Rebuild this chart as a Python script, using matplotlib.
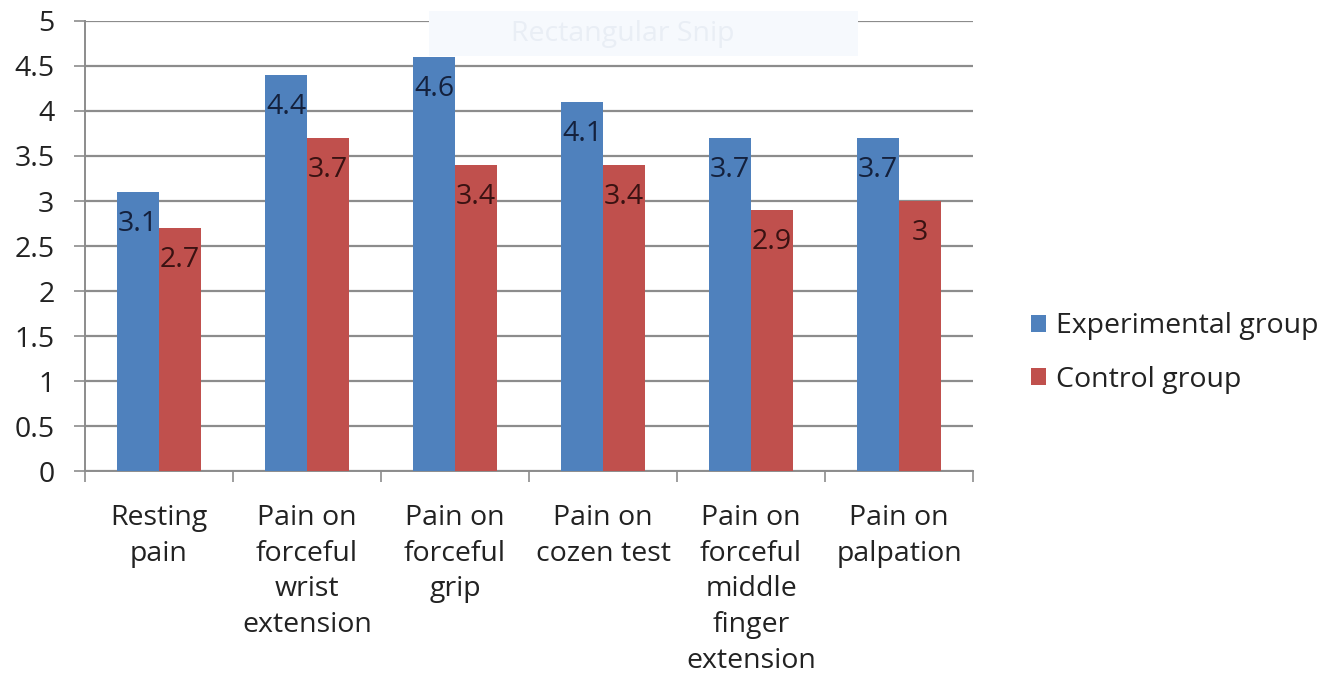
import matplotlib.pyplot as plt
import numpy as np
from matplotlib.patches import Rectangle

# data
categories = [
    "Resting\npain",
    "Pain on\nforceful\nwrist\nextension",
    "Pain on\nforceful\ngrip",
    "Pain on\ncozen test",
    "Pain on\nforceful\nmiddle\nfinger\nextension",
    "Pain on\npalpation",
]
experimental = [3.1, 4.4, 4.6, 4.1, 3.7, 3.7]
control = [2.7, 3.7, 3.4, 3.4, 2.9, 3.0]
exp_labels = ["3.1", "4.4", "4.6", "4.1", "3.7", "3.7"]
ctl_labels = ["2.7", "3.7", "3.4", "3.4", "2.9", "3"]
yticks = [0, 0.5, 1, 1.5, 2, 2.5, 3, 3.5, 4, 4.5, 5]

BLUE = "#4F81BD"
RED = "#C0504D"
GRID = "#8c8c8c"
TXT = "#222222"
FS = 20.5

plt.rcParams["font.family"] = ["Open Sans", "DejaVu Sans"]

fig = plt.figure(figsize=(13.28, 6.75), dpi=100)
ax = fig.add_axes([0.064, 0.3022, 0.6687, 0.6667])

x = np.arange(len(categories))
w = 0.284

ax.bar(x - w / 2, experimental, w, color=BLUE, zorder=3,
       label="Experimental group")
ax.bar(x + w / 2, control, w, color=RED, zorder=3,
       label="Control group")

for xi, v, s in zip(x, experimental, exp_labels):
    ax.text(xi - w / 2, v - 0.36, s, ha="center", va="center",
            fontsize=FS, color="#14213d", zorder=4)
for xi, v, s in zip(x, control, ctl_labels):
    ax.text(xi + w / 2, v - 0.36, s, ha="center", va="center",
            fontsize=FS, color="#3a1212", zorder=4)

ax.set_xlim(-0.5, len(categories) - 0.5)
ax.set_ylim(0, 5)
ax.set_yticks(yticks)
ax.set_yticklabels([f"{t:g}" for t in yticks], fontsize=FS, color=TXT)
ax.yaxis.grid(True, color=GRID, linewidth=1.6, zorder=0)

# category ticks between groups
ax.set_xticks(np.arange(len(categories) + 1) - 0.5)
ax.set_xticklabels([])
ax.set_xticks(x, minor=True)
ax.set_xticklabels(categories, minor=True, fontsize=FS, color=TXT,
                   linespacing=1.36, va="top")
ax.tick_params(axis="x", which="minor", length=0, pad=24)
ax.tick_params(axis="x", which="major", length=8, width=1.2,
               color=GRID)
ax.tick_params(axis="y", length=8, width=1.2, color=GRID, pad=14)

for side in ["top", "right"]:
    ax.spines[side].set_visible(False)
for side in ["left", "bottom"]:
    ax.spines[side].set_color(GRID)
    ax.spines[side].set_linewidth(1.4)

leg = ax.legend(loc="center left", bbox_to_anchor=(1.036, 0.262),
                frameon=False, fontsize=FS, handlelength=0.55,
                handleheight=0.55, handletextpad=0.35, labelspacing=0.9)
for t in leg.get_texts():
    t.set_color(TXT)

# faint snipping-tool overlay from the screenshot
fig.patches.append(Rectangle((0.323, 0.917), 0.323, 0.066,
                             transform=fig.transFigure,
                             facecolor="#f6f9fd", edgecolor="none",
                             zorder=5))
fig.text(0.385, 0.95, "Rectangular Snip", fontsize=FS,
         color="#e9eef5", va="center", zorder=6)

fig.savefig("out.png", dpi=100)
